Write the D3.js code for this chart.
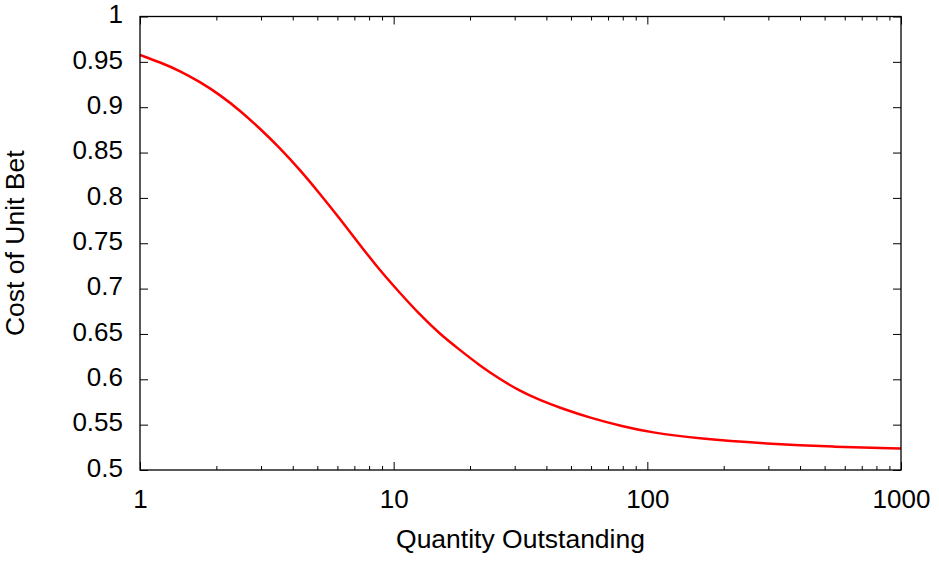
<!DOCTYPE html>
<html>
<head>
<meta charset="utf-8">
<script src="https://cdn.jsdelivr.net/npm/d3@7"></script>
<style>
  body { margin: 0; background: #fff; }
  svg text { font-family: "Liberation Sans", Arial, Helvetica, sans-serif; fill: #000; }
</style>
</head>
<body>
<div id="chart"></div>
<script>
// values (quantity outstanding -> cost of a unit bet)
var quantity = [1, 1.2, 1.44, 1.72, 2.07, 2.48, 2.97, 3.56, 4.27, 5.12, 6.14, 7.37, 8.83,
                10.6, 12.7, 15.2, 18.3, 21.9, 26.3, 31.5, 37.7, 45.3, 59.4, 80.2, 102, 161, 296, 540, 1000];
var cost = [0.9576, 0.9495, 0.940, 0.928, 0.9135, 0.8963, 0.8765, 0.855, 0.831, 0.8045, 0.777, 0.748, 0.720,
            0.695, 0.671, 0.650, 0.632, 0.615, 0.600, 0.587, 0.577, 0.5685, 0.5575, 0.548, 0.5416, 0.5344, 0.529, 0.5255, 0.5237];

var xMajorTicks = [1, 10, 100, 1000];
var yTicks = [0.5, 0.55, 0.6, 0.65, 0.7, 0.75, 0.8, 0.85, 0.9, 0.95, 1];

var WIDTH = 939, HEIGHT = 567;
var MARGIN = {LEFT: 140, RIGHT: 38, TOP: 16.5, BOTTOM: 97};
var plotW = WIDTH - MARGIN.LEFT - MARGIN.RIGHT,
    plotH = HEIGHT - MARGIN.TOP - MARGIN.BOTTOM;

var svg = d3.select("#chart")
    .append("svg")
    .attr("width", WIDTH)
    .attr("height", HEIGHT);

var g = svg.append("g")
    .attr("transform", "translate(" + MARGIN.LEFT + "," + MARGIN.TOP + ")");

var x = d3.scaleLog()
    .domain([1, 1000])
    .range([0, plotW]);

var y = d3.scaleLinear()
    .domain([0.5, 1])
    .range([plotH, 0]);

// minor ticks 2..9 of every decade
var xMinorTicks = [];
xMajorTicks.slice(0, -1).forEach(function(d) {
    for (var i = 2; i < 10; i++) xMinorTicks.push(d * i);
});

function styleAxis(sel) {
    sel.select(".domain").remove();
    sel.selectAll("line").attr("stroke", "#000").attr("stroke-width", 1);
}

// bottom axis (ticks point inward)
var bottom = g.append("g")
    .attr("transform", "translate(0," + plotH + ")")
    .call(d3.axisBottom(x).tickValues(xMajorTicks).tickSize(-8).tickFormat(d3.format("d")));
styleAxis(bottom);
bottom.selectAll("text")
    .attr("y", 0).attr("dy", null)
    .attr("transform", "translate(0,38)")
    .style("font-size", "26px");

g.append("g")
    .attr("transform", "translate(0," + plotH + ")")
    .call(d3.axisBottom(x).tickValues(xMinorTicks).tickSize(-4).tickFormat(""))
    .call(styleAxis);

// mirrored top ticks
g.append("g")
    .call(d3.axisTop(x).tickValues(xMajorTicks).tickSize(-8).tickFormat(""))
    .call(styleAxis);
g.append("g")
    .call(d3.axisTop(x).tickValues(xMinorTicks).tickSize(-4).tickFormat(""))
    .call(styleAxis);

// left axis
var left = g.append("g")
    .call(d3.axisLeft(y).tickValues(yTicks).tickSize(-8).tickFormat(d3.format("")));
styleAxis(left);
left.selectAll("text")
    .attr("x", -17).attr("dy", "0.24em")
    .style("font-size", "26px");

// mirrored right ticks
g.append("g")
    .attr("transform", "translate(" + plotW + ",0)")
    .call(d3.axisRight(y).tickValues(yTicks).tickSize(-8).tickFormat(""))
    .call(styleAxis);

// the curve (B-spline through the read points to keep it smooth)
var line = d3.line()
    .x(function(d, i) { return x(quantity[i]); })
    .y(function(d) { return y(d); })
    .curve(d3.curveBasis);

g.append("path")
    .datum(cost)
    .attr("fill", "none")
    .attr("stroke", "#ff0000")
    .attr("stroke-width", 2.5)
    .attr("d", line);

// plot border
g.append("rect")
    .attr("width", plotW)
    .attr("height", plotH)
    .attr("fill", "none")
    .attr("stroke", "#000")
    .attr("stroke-width", 1.3);

// axis titles
svg.append("text")
    .attr("x", MARGIN.LEFT + plotW / 2)
    .attr("y", 548)
    .attr("text-anchor", "middle")
    .style("font-size", "26.5px")
    .text("Quantity Outstanding");

svg.append("text")
    .attr("transform", "translate(24," + (MARGIN.TOP + plotH / 2) + ") rotate(-90)")
    .attr("text-anchor", "middle")
    .style("font-size", "26.5px")
    .text("Cost of Unit Bet");
</script>
</body>
</html>
